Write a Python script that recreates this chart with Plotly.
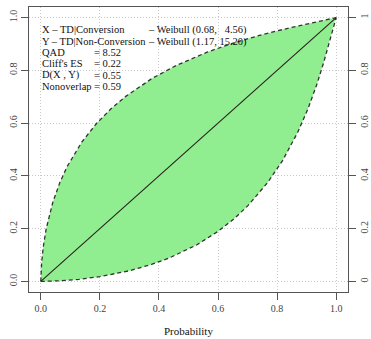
import plotly.graph_objects as go

# P-P curve: probability under Y (x) against probability under X (y)
pp_y = [0.0, 0.00001, 0.0002, 0.0004, 0.0012, 0.0028, 0.0081, 0.0182, 0.0406,
        0.0644, 0.0890, 0.1391, 0.1892, 0.2384, 0.2862, 0.3762, 0.4581, 0.5652,
        0.6542, 0.7480, 0.8330, 0.8909, 0.9550, 0.9822, 0.9975, 1.0]
pp_x = [0.0, 0.0032, 0.0154, 0.0246, 0.0454, 0.0718, 0.1297, 0.1994, 0.3000,
        0.3747, 0.4350, 0.5287, 0.5994, 0.6551, 0.7004, 0.7690, 0.8184, 0.8698,
        0.9044, 0.9349, 0.9585, 0.9727, 0.9875, 0.9939, 0.9984, 1.0]

diag = [0.0, 1.0]

ticks = [0.0, 0.2, 0.4, 0.6, 0.8, 1.0]
left_labels = ["0.0", "0.2", "0.4", "0.6", "0.8", "1.0"]
right_labels = ["0", "0.2", "0.4", "0.6", "0.8", "1"]

legend_left = ["X \u2013 TD|Conversion", "Y \u2013 TD|Non-Conversion"]
legend_right = ["\u2013 Weibull (0.68, \u20074.56)", "\u2013 Weibull (1.17, 15.20)"]
stat_names = ["QAD", "Cliff's ES", "D(X , Y)", "Nonoverlap"]
stat_values = ["8.52", "0.22", "0.55", "0.59"]

SERIF = "Liberation Serif, Times New Roman, serif"
FRAME = "#555555"
GRID = "#c8c8c8"

fig = go.Figure()

# shaded band between the curve and its mirror image
band_x = pp_y + pp_x[::-1]
band_y = pp_x + pp_y[::-1]
fig.add_trace(go.Scatter(x=band_x, y=band_y, mode="lines", fill="toself",
                         fillcolor="#90EE90", line=dict(width=0),
                         hoverinfo="skip", showlegend=False))
fig.add_trace(go.Scatter(x=pp_y, y=pp_x, mode="lines",
                         line=dict(color="#333333", width=1.3, dash="4px,3px"),
                         showlegend=False))
fig.add_trace(go.Scatter(x=pp_x, y=pp_y, mode="lines",
                         line=dict(color="#333333", width=1.3, dash="4px,3px"),
                         showlegend=False))
fig.add_trace(go.Scatter(x=diag, y=diag, mode="lines",
                         line=dict(color="#2a1f1f", width=1.1),
                         showlegend=False))
# carrier for the right-hand axis
fig.add_trace(go.Scatter(x=diag, y=diag, mode="lines", yaxis="y2",
                         line=dict(width=0), opacity=0, hoverinfo="skip",
                         showlegend=False))

axis_font = dict(family=SERIF, size=10, color="#444444")

fig.update_layout(
    width=371, height=339,
    margin=dict(l=29, r=23, t=7, b=47, autoexpand=False),
    paper_bgcolor="white", plot_bgcolor="white",
    xaxis=dict(range=[-0.04, 1.04], tickvals=ticks, ticktext=left_labels,
               ticks="outside", ticklen=7, tickcolor=FRAME, tickwidth=1,
               showline=True, linecolor=FRAME, linewidth=1, mirror=True,
               showgrid=True, gridcolor=GRID, griddash="1px,2px", gridwidth=1,
               zeroline=False, tickfont=axis_font, layer="above traces",
               automargin=False),
    yaxis=dict(range=[-0.04, 1.04], tickvals=ticks, ticktext=left_labels,
               ticks="outside", ticklen=7, tickcolor=FRAME, tickwidth=1,
               tickangle=-90,
               showline=True, linecolor=FRAME, linewidth=1, mirror=True,
               showgrid=True, gridcolor=GRID, griddash="1px,2px", gridwidth=1,
               zeroline=False, tickfont=axis_font, layer="above traces",
               automargin=False),
    yaxis2=dict(range=[-0.04, 1.04], overlaying="y", side="right",
                tickvals=ticks, ticktext=right_labels,
                ticks="outside", ticklen=7, tickcolor=FRAME, tickwidth=1,
                tickangle=-90, showline=False, showgrid=False, zeroline=False,
                tickfont=axis_font, automargin=False, ticklabelstandoff=0),
)

text_font = dict(family=SERIF, size=10.5, color="#111111")
row_y = [0.954, 0.909, 0.868, 0.827, 0.782, 0.738]

for i in range(2):
    fig.add_annotation(x=-0.004, y=row_y[i], xref="x", yref="y", text=legend_left[i],
                       showarrow=False, xanchor="left", yanchor="middle", font=text_font)
    fig.add_annotation(x=0.356, y=row_y[i], xref="x", yref="y", text=legend_right[i],
                       showarrow=False, xanchor="left", yanchor="middle", font=text_font)
for i in range(4):
    fig.add_annotation(x=-0.004, y=row_y[i + 2], xref="x", yref="y", text=stat_names[i],
                       showarrow=False, xanchor="left", yanchor="middle", font=text_font)
    fig.add_annotation(x=0.172, y=row_y[i + 2], xref="x", yref="y",
                       text="= " + stat_values[i],
                       showarrow=False, xanchor="left", yanchor="middle", font=text_font)

fig.add_annotation(x=0.5, y=-0.138, xref="paper", yref="paper", text="Probability",
                   showarrow=False, xanchor="center", yanchor="middle",
                   font=dict(family=SERIF, size=11, color="#111111"))

fig.write_html("out.html")
